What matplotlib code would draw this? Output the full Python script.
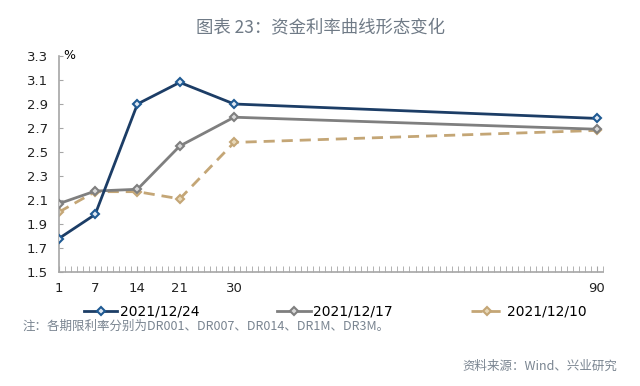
import numpy as np
import matplotlib
matplotlib.use('Agg')
import matplotlib.pyplot as plt

plt.rcParams['font.family'] = ['Noto Sans CJK SC', 'DejaVu Sans']

# tenor in days: DR001, DR007, DR014, DR1M, DR3M
tenors = [1, 7, 14, 21, 30, 90]
rate_1224 = [1.78, 1.98, 2.90, 3.08, 2.90, 2.78]
rate_1217 = [2.07, 2.175, 2.19, 2.55, 2.79, 2.69]
rate_1210 = [2.00, 2.17, 2.17, 2.11, 2.58, 2.68]
labels = ['2021/12/24', '2021/12/17', '2021/12/10']
xticks = [1, 7, 14, 21, 30, 90]
yticks = [1.5, 1.7, 1.9, 2.1, 2.3, 2.5, 2.7, 2.9, 3.1, 3.3]

fig = plt.figure(figsize=(6.4, 3.86), dpi=100)
ax = fig.add_axes([0.092, 0.295, 0.85, 0.56])

ax.plot(tenors, rate_1224, color='#1c3d66', lw=2, marker='D', ms=4.5,
        mfc='#dfe9f3', mec='#1f5a93', mew=1.5, label=labels[0], zorder=4)
ax.plot(tenors, rate_1217, color='#7f7f7f', lw=2, marker='D', ms=4.5,
        mfc='#d9d9d9', mec='#7f7f7f', mew=1.5, label=labels[1], zorder=3)
ax.plot(tenors, rate_1210, color='#c4a676', lw=2, ls=(0, (4, 2.5)), marker='D', ms=4.5,
        mfc='#e8d8b8', mec='#c4a676', mew=1.5, label=labels[2], zorder=2)

ax.set_xlim(1, 91)
ax.set_ylim(1.5, 3.3)
ax.set_xticks(xticks)
ax.set_xticks(np.arange(1, 92, 1), minor=True)
ax.set_yticks(yticks)
ax.set_yticklabels([f'{v:.1f}' for v in yticks])

for s in ['top', 'right']:
    ax.spines[s].set_visible(False)
for s in ['left', 'bottom']:
    ax.spines[s].set_color('#a6a6a6')
    ax.spines[s].set_linewidth(1.2)

ax.tick_params(axis='x', which='major', length=4, direction='in', color='#a6a6a6',
               labelsize=9.5, pad=7, labelcolor='#222222')
ax.tick_params(axis='x', which='minor', length=4, direction='in', color='#a6a6a6')
ax.tick_params(axis='y', length=3, direction='in', color='#a6a6a6',
               labelsize=9.5, labelcolor='#222222', pad=8)
for lab in ax.get_xticklabels() + ax.get_yticklabels():
    lab.set_family('DejaVu Sans')

ax.text(1.8, 3.3, '%', fontsize=9, va='center', ha='left', family='DejaVu Sans')

leg = ax.legend(loc='upper center', bbox_to_anchor=(0.508, -0.125), ncol=3, frameon=False,
                fontsize=10, columnspacing=5.6, handlelength=2.4, handletextpad=0.2,
                borderaxespad=0)
for t in leg.get_texts():
    t.set_family('DejaVu Sans')

fig.text(0.5, 0.93, '图表 23：资金利率曲线形态变化', ha='center', va='center',
         fontsize=12.5, color='#6f7a86')
fig.text(0.035, 0.155, '注：各期限利率分别为DR001、DR007、DR014、DR1M、DR3M。',
         ha='left', va='center', fontsize=9, color='#7a8591')
fig.text(0.965, 0.052, '资料来源：Wind、兴业研究', ha='right', va='center',
         fontsize=9, color='#7a8591')

fig.savefig('out.png', dpi=100)
